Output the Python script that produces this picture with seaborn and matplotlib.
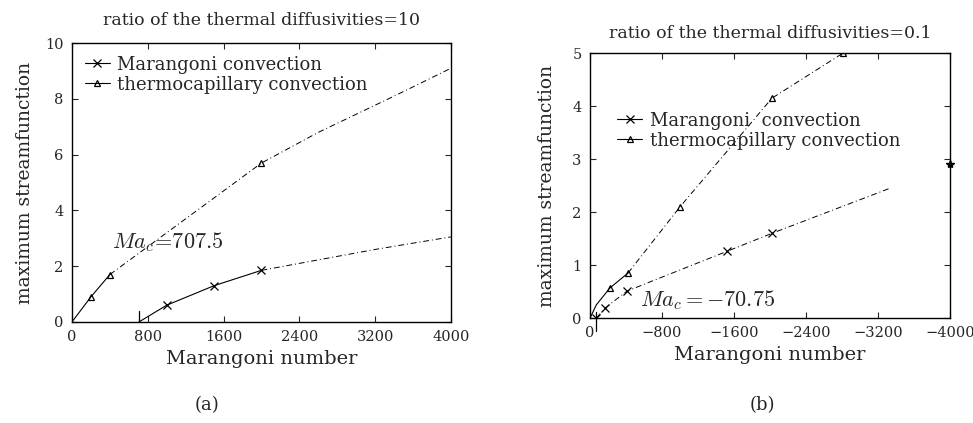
import matplotlib
matplotlib.use("Agg")
import matplotlib.pyplot as plt
import seaborn as sns
import pandas as pd

# panel (a): ratio of thermal diffusivities = 10
a_ma_x = [707.5, 1000, 1500, 2000, 2400, 3200, 4000]
a_ma_y = [0.0, 0.6, 1.3, 1.85, 2.1, 2.6, 3.05]
a_tc_x = [0, 200, 400, 1000, 1600, 2000, 2600, 3400, 4000]
a_tc_y = [0.0, 0.9, 1.7, 3.2, 4.7, 5.7, 6.8, 8.1, 9.1]

# panel (b): ratio of thermal diffusivities = 0.1
b_ma_x = [-70.75, -167, -411, -1522, -2022, -3333, -4000]
b_ma_y = [0.0, 0.19, 0.51, 1.26, 1.6, 2.45, 2.9]
b_tc_x = [0, -70, -222, -422, -1000, -2022, -2811]
b_tc_y = [0.0, 0.25, 0.57, 0.85, 2.1, 4.15, 5.0]

a_xticks = [0, 800, 1600, 2400, 3200, 4000]
b_xticks = [0, -800, -1600, -2400, -3200, -4000]
b_xticklabels = ["0", "\u2212800", "\u22121600", "\u22122400", "\u22123200", "\u22124000"]

sns.set_theme(style="ticks")
plt.rcParams["font.family"] = ["DejaVu Serif"]
plt.rcParams["mathtext.fontset"] = "cm"
plt.rcParams["xtick.direction"] = "in"
plt.rcParams["ytick.direction"] = "in"


def draw(ax, x, y, marker, label, solid_upto, mark_idx, ms=6):
    df = pd.DataFrame({"x": x, "y": y})
    # solid first part
    sns.lineplot(data=df.iloc[:solid_upto + 1], x="x", y="y", ax=ax, sort=False,
                 estimator=None, color="black", lw=0.8)
    # dash-dot continuation
    sns.lineplot(data=df.iloc[solid_upto:], x="x", y="y", ax=ax, sort=False,
                 estimator=None, color="black", lw=0.7, linestyle=(0, (6, 3, 1, 3)))
    m = df.iloc[mark_idx]
    ax.plot(m["x"], m["y"], linestyle="none", marker=marker, color="black",
            mfc="none", ms=ms, mew=0.9)
    # legend proxy
    ax.plot([], [], color="black", lw=0.8, marker=marker, mfc="none", ms=ms,
            mew=0.9, label=label)


def style(ax):
    ax.tick_params(top=True, right=True, length=4, width=0.8, labelsize=10.5, pad=6)
    for s in ax.spines.values():
        s.set_color("black")
        s.set_linewidth(1.0)
    ax.set_xlabel("Marangoni number", fontsize=14, labelpad=4)
    ax.set_ylabel("maximum streamfunction", fontsize=13.5)


fig = plt.figure(figsize=(9.73, 4.23), dpi=100)
ax1 = fig.add_axes([0.074, 0.239, 0.3895, 0.659])
ax2 = fig.add_axes([0.6064, 0.248, 0.370, 0.6265])

# (a)
draw(ax1, a_ma_x, a_ma_y, "x", "Marangoni convection", 3, [1, 2, 3])
draw(ax1, a_tc_x, a_tc_y, "^", "thermocapillary convection", 2, [1, 2, 5], ms=5)
# critical Marangoni number mark
ax1.plot([a_ma_x[0], a_ma_x[0]], [0, 0.4], color="black", lw=0.9)
ax1.set_xlim(0, 4000)
ax1.set_ylim(0, 10)
ax1.set_xticks(a_xticks)
ax1.set_yticks([0, 2, 4, 6, 8, 10])
ax1.text(420, 2.85, r"$Ma_c\!=\!707.5$", fontsize=16, va="center")
ax1.set_title("ratio of the thermal diffusivities=10", fontsize=12.5, pad=13)
ax1.legend(loc="upper left", frameon=False, fontsize=13, handlelength=1.4,
           handletextpad=0.4, labelspacing=0.1, borderaxespad=0.3)
style(ax1)
ax1.yaxis.labelpad = 8

# (b)
draw(ax2, b_ma_x[:-1], b_ma_y[:-1], "x", "Marangoni  convection", 0, [0, 1, 2, 3, 4])
ax2.plot(b_ma_x[-1], b_ma_y[-1], marker="*", color="black", ms=6, clip_on=False)
draw(ax2, b_tc_x, b_tc_y, "^", "thermocapillary convection", 3, [2, 3, 4, 5, 6], ms=5)
ax2.plot([b_ma_x[0], b_ma_x[0]], [-0.25, 0.12], color="black", lw=0.9, clip_on=False)
ax2.set_xlim(0, -4000)
ax2.set_ylim(0, 5)
ax2.set_xticks(b_xticks)
ax2.set_xticklabels(b_xticklabels)
ax2.set_yticks([0, 1, 2, 3, 4, 5])
ax2.text(-560, 0.34, r"$Ma_c=-70.75$", fontsize=16, va="center")
ax2.set_title("ratio of the thermal diffusivities=0.1", fontsize=12.5, pad=11)
ax2.legend(loc="upper left", bbox_to_anchor=(0.03, 0.84), frameon=False, fontsize=13,
           handlelength=1.4, handletextpad=0.4, labelspacing=0.1)
style(ax2)
ax2.yaxis.labelpad = 12

fig.text(0.213, 0.03, "(a)", fontsize=13, ha="center")
fig.text(0.784, 0.03, "(b)", fontsize=13, ha="center")

fig.savefig("out.png", dpi=100)
